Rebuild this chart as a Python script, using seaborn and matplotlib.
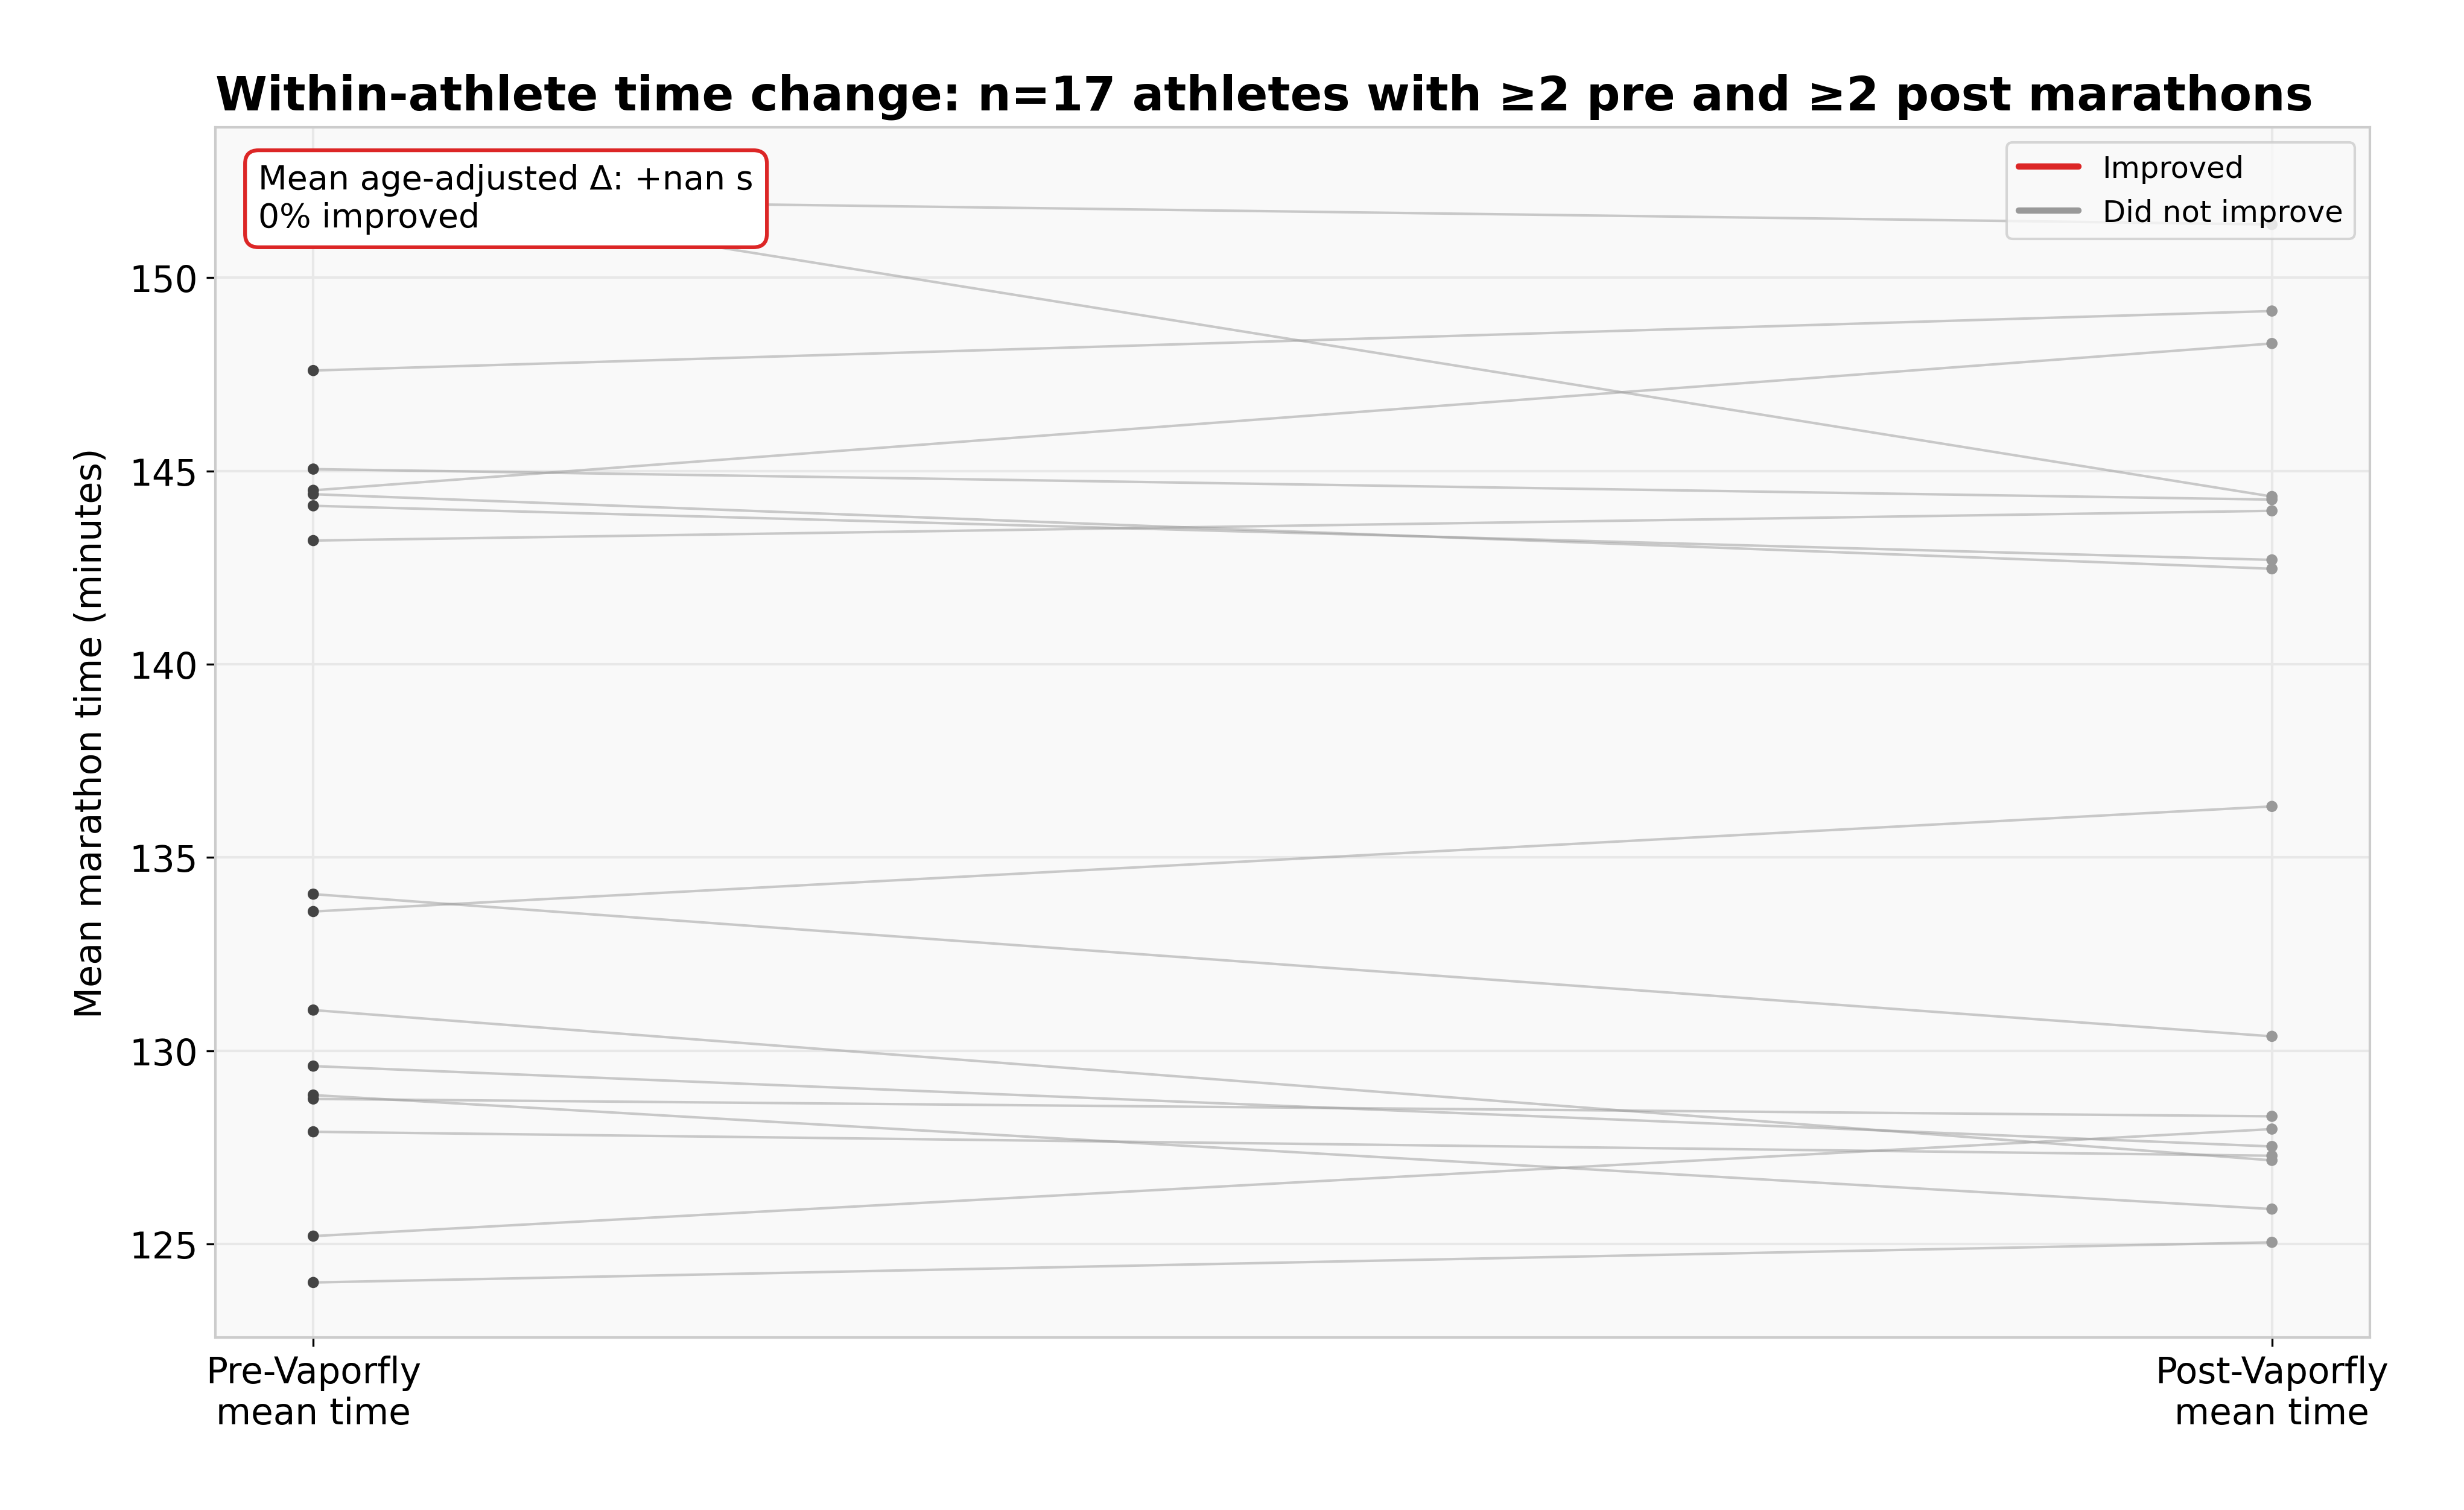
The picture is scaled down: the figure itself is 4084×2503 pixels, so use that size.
import numpy as np
import pandas as pd
import matplotlib
matplotlib.use("Agg")
import matplotlib.pyplot as plt
from matplotlib.lines import Line2D
import seaborn as sns

# mean marathon times (minutes) per athlete, before and after switching to Vaporfly
pre_times = [152.05, 152.47, 147.6, 145.05, 144.5, 144.4, 144.1, 143.2,
             134.05, 133.6, 131.05, 129.6, 128.85, 128.75, 127.9, 125.2, 124.0]
post_times = [151.38, 144.34, 149.14, 144.26, 148.3, 142.47, 142.7, 143.97,
              130.37, 136.32, 127.16, 127.52, 125.9, 128.3, 127.28, 127.97, 125.04]
phase_labels = ["Pre-Vaporfly\nmean time", "Post-Vaporfly\nmean time"]
legend_labels = ["Improved", "Did not improve"]
annot_text = "Mean age-adjusted \u0394: +nan s\n0% improved"
title = "Within-athlete time change: n=17 athletes with \u22652 pre and \u22652 post marathons"

n = len(pre_times)
df = pd.DataFrame({
    "athlete": list(range(n)) * 2,
    "phase": [0] * n + [1] * n,
    "time": pre_times + post_times,
})

sns.set_theme(style="whitegrid", rc={
    "axes.facecolor": "#f9f9f9",
    "axes.edgecolor": "#cccccc",
    "grid.color": "#e8e8e8",
    "grid.linewidth": 1.0,
    "xtick.bottom": True,
    "ytick.left": True,
    "xtick.color": "black",
    "ytick.color": "black",
    "text.color": "black",
    "axes.labelcolor": "black",
})
plt.rcParams["font.family"] = ["DejaVu Sans"]

fig, ax = plt.subplots(figsize=(4084 / 300, 2504 / 300), dpi=300)
fig.subplots_adjust(left=0.0874, right=0.9618, bottom=0.1142, top=0.9153)

# one thin line per athlete
sns.lineplot(data=df, x="phase", y="time", units="athlete", estimator=None,
             color="#999999", alpha=0.5, linewidth=1.0, legend=False, ax=ax)

# endpoints
sns.scatterplot(data=df[df.phase == 0], x="phase", y="time", color="#444444",
                s=20, edgecolor="none", zorder=3, legend=False, ax=ax)
sns.scatterplot(data=df[df.phase == 1], x="phase", y="time", color="#999999",
                s=20, edgecolor="none", zorder=3, legend=False, ax=ax)

ax.set_xlim(-0.05, 1.05)
ax.set_xticks([0, 1])
ax.set_xticklabels(phase_labels, fontsize=14.3)
ax.tick_params(axis="y", labelsize=14.3)
ax.tick_params(axis="both", length=3.5, width=0.8)
ax.set_xlabel("")
ax.set_ylabel("Mean marathon time (minutes)", fontsize=14.5, labelpad=8)
ax.set_title(title, fontsize=18.7, fontweight="bold", loc="left", pad=7)
for sp in ax.spines.values():
    sp.set_color("#cccccc")
    sp.set_linewidth(1.0)

ax.text(0.02, 0.97, annot_text, transform=ax.transAxes, fontsize=13.3,
        va="top", ha="left", zorder=6,
        bbox=dict(boxstyle="round,pad=0.4", facecolor="white",
                  edgecolor="#dc2626", linewidth=1.5))

handles = [Line2D([0], [0], color="#dc2626", lw=2.5),
           Line2D([0], [0], color="#999999", lw=2.5)]
ax.legend(handles, legend_labels, loc="upper right", fontsize=11.9,
          frameon=True, edgecolor="#cccccc", facecolor="#f9f9f9")

plt.savefig("out.png", dpi=300)
plt.close()
